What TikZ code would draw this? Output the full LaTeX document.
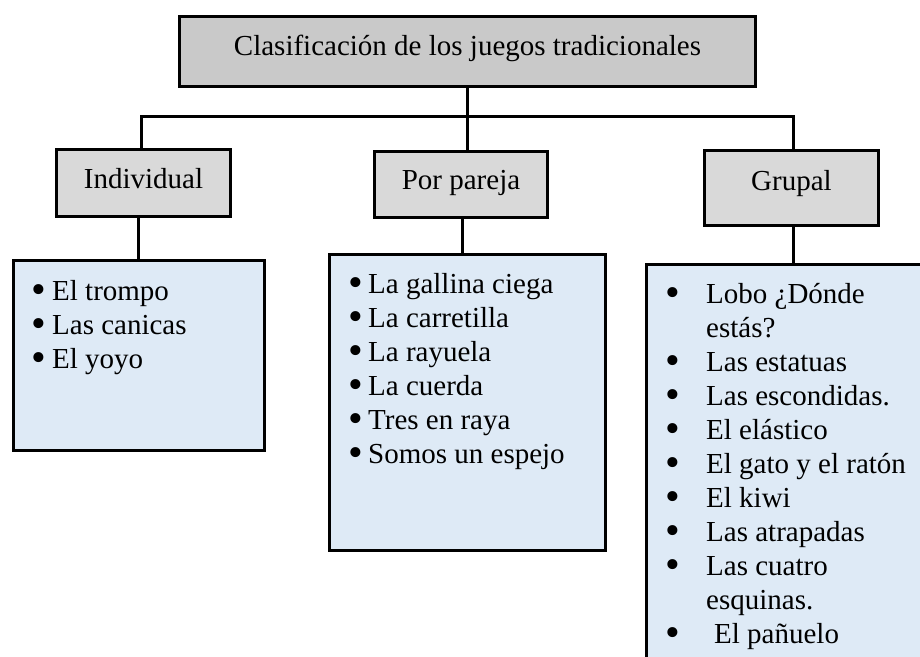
\documentclass[tikz,border=0pt]{standalone}
\usepackage{fontspec}
\setmainfont{Liberation Serif}
\definecolor{titlegray}{HTML}{C9C9C9}
\definecolor{labelgray}{HTML}{D9D9D9}
\definecolor{listblue}{HTML}{DEEAF6}
\newcommand{\bigbul}{\raisebox{-3pt}{\scalebox{1.45}{\textbullet}}}
% #1: distance from line start to text, #2: distance from line start to bullet centre
\newcommand{\bul}[2]{\makebox[#1][l]{\hspace{#2}\makebox[0pt][c]{\bigbul}}}
\begin{document}
\begin{tikzpicture}[x=1pt,y=-1pt,
  every node/.style={font=\fontsize{29}{34}\selectfont},
  box/.style={draw=black, line width=3pt, rectangle, inner sep=0pt},
  titlebox/.style={box, fill=titlegray, minimum width=576pt, minimum height=70pt, text height=20pt, text depth=13pt},
  labelbox/.style={box, fill=labelgray, minimum width=174pt, text height=20pt, text depth=10pt},
  listbox/.style={box, fill=listblue},
  listtext/.style={anchor=base west, inner sep=0pt},
  conn/.style={line width=3pt}
]
\useasboundingbox (0,0) rectangle (920,656);
\clip (0,0) rectangle (920,656);

% title
\node[titlebox] (title) at (467.5,51.5) {Clasificación de los juegos tradicionales};

% category boxes
\node[labelbox, minimum height=67pt] (ind) at (143.5,183) {Individual};
\node[labelbox, minimum height=66pt, minimum width=173pt] (par) at (461,184.5) {Por pareja};
\node[labelbox, minimum height=75pt, text depth=16pt] (grp) at (791.5,188) {Grupal};

% list boxes
\node[listbox, minimum width=251pt, minimum height=190pt] (indlist) at (139,355.5) {};
\node[listbox, minimum width=276pt, minimum height=296pt] (parlist) at (467.5,402.5) {};
\node[listbox, minimum width=320pt, minimum height=460pt] (grplist) at (806.5,494.5) {};

% list texts
\node[listtext] (indtext) at (30,300) {\begin{tabular}[t]{@{}l@{}}
\bul{22pt}{9pt}El trompo\\
\bul{22pt}{9pt}Las canicas\\
\bul{22pt}{9pt}El yoyo
\end{tabular}};

\node[listtext] (partext) at (346,293) {\begin{tabular}[t]{@{}l@{}}
\bul{22pt}{10pt}La gallina ciega\\
\bul{22pt}{10pt}La carretilla\\
\bul{22pt}{10pt}La rayuela\\
\bul{22pt}{10pt}La cuerda\\
\bul{22pt}{10pt}Tres en raya\\
\bul{22pt}{10pt}Somos un espejo
\end{tabular}};

\node[listtext] (grptext) at (663,303) {\begin{tabular}[t]{@{}l@{}}
\bul{43pt}{10pt}Lobo ¿Dónde\\
\makebox[43pt][l]{}estás?\\
\bul{43pt}{10pt}Las estatuas\\
\bul{43pt}{10pt}Las escondidas.\\
\bul{43pt}{10pt}El elástico\\
\bul{43pt}{10pt}El gato y el ratón\\
\bul{43pt}{10pt}El kiwi\\
\bul{43pt}{10pt}Las atrapadas\\
\bul{43pt}{10pt}Las cuatro\\
\makebox[43pt][l]{}esquinas.\\
\bul{43pt}{10pt}\hspace{8pt}El pañuelo
\end{tabular}};

% connectors
\coordinate (busL) at (141,116);
\coordinate (busR) at (793,116);
\draw[conn] (title.south) -- (title.south |- busL);
\draw[conn, line cap=rect] (busL) -- (busR);
\draw[conn] (busL) -- (busL |- ind.north);
\draw[conn] (title.south |- busL) -- (title.south |- par.north);
\draw[conn] (busR) -- (busR |- grp.north);
\draw[conn] ([xshift=-5pt]ind.south) -- ([xshift=-5pt]ind.south |- indlist.north);
\draw[conn] ([xshift=1pt]par.south) -- ([xshift=1pt]par.south |- parlist.north);
\draw[conn] ([xshift=1.5pt]grp.south) -- ([xshift=1.5pt]grp.south |- grplist.north);
\end{tikzpicture}
\end{document}
